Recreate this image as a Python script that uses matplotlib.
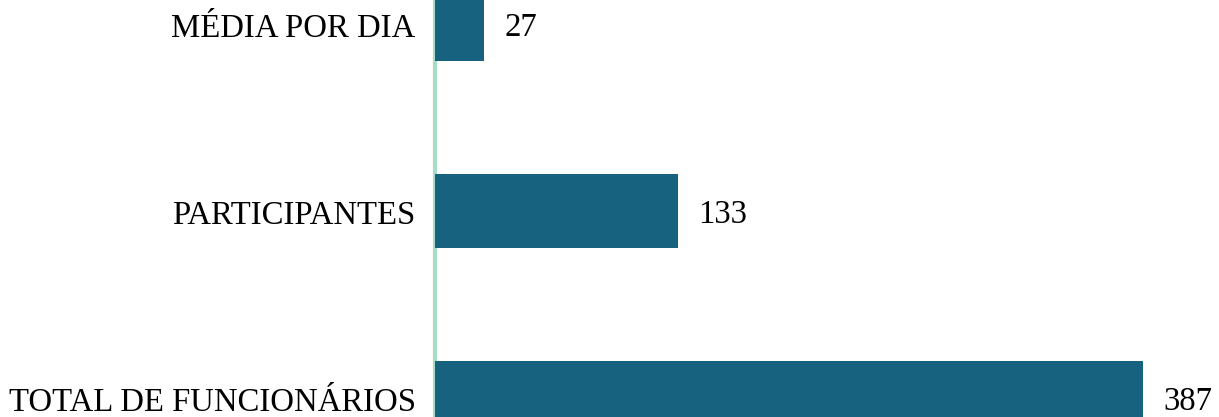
import matplotlib.pyplot as plt
import matplotlib.transforms as mtransforms

categories = ["TOTAL DE FUNCIONÁRIOS", "PARTICIPANTES", "MÉDIA POR DIA"]
values = [387, 133, 27]

BAR_COLOR = "#16627f"
AXIS_COLOR = "#a8dcc6"

plt.rcParams["font.family"] = ["Liberation Serif", "DejaVu Serif"]

fig = plt.figure(figsize=(12.19, 4.17), dpi=100)
ax = fig.add_axes([435 / 1219, 0, 1 - 435 / 1219, 1])

pos = list(range(len(categories)))
ax.barh(pos, values, height=0.396, color=BAR_COLOR, zorder=1)

for p, v in zip(pos, values):
    ax.annotate(str(v), xy=(v, p), xytext=(20, -4), textcoords="offset pixels",
                ha="left", va="center", fontsize=23.6, color="#000000")

# bar centres land at ~398, 211, 24 px from the top
ax.set_ylim(-19 / 187, 398 / 187)
ax.set_xlim(0, 428.5)
ax.set_yticks(pos)
ax.set_yticklabels(categories, fontsize=23.6, color="#000000")
ax.tick_params(axis="y", length=0, pad=14)
ax.set_xticks([])

shift = mtransforms.ScaledTranslation(0, -1 / 100, fig.dpi_scale_trans)
for lbl in ax.get_yticklabels():
    lbl.set_transform(lbl.get_transform() + shift)

for side in ["top", "right", "bottom"]:
    ax.spines[side].set_visible(False)
ax.spines["left"].set_color(AXIS_COLOR)
ax.spines["left"].set_linewidth(3)
ax.spines["left"].set_zorder(0)

fig.savefig("out.png", dpi=100)
